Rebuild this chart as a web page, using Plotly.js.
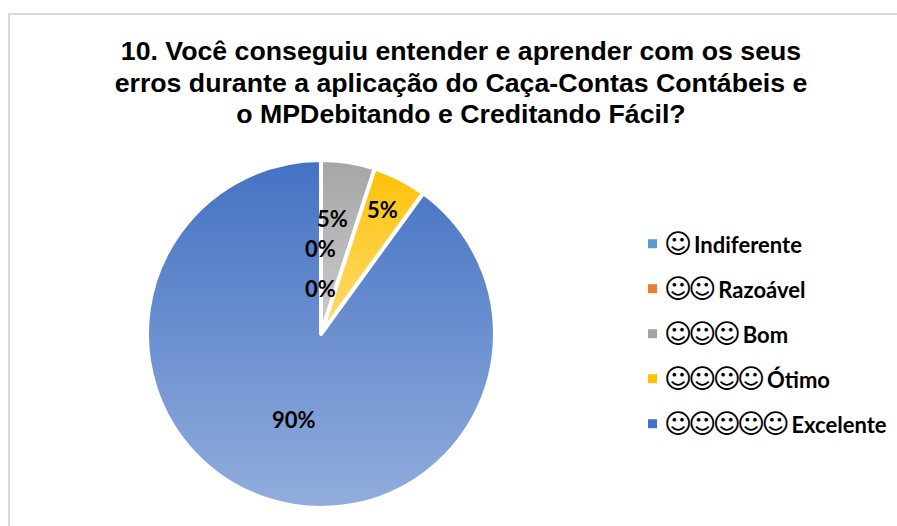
<!DOCTYPE html>
<html><head><meta charset="utf-8">
<script src="https://cdn.plot.ly/plotly-3.0.1.min.js"></script>
<style>html,body{margin:0;padding:0;background:#fff;overflow:hidden}</style>
</head><body><div id="chart" style="width:897px;height:526px"></div>
<script>
const categories = ['Indiferente','Razoável','Bom','Ótimo','Excelente'];
const smileyCounts = [1,2,3,4,5];
const values = [0,0,5,5,90];
const colors = ['#5B9BD5','#ED7D31','#A5A5A5','#FFC000','#4472C4'];
const titleText = '10. Você conseguiu entender e aprender com os seus<br>erros durante a aplicação do Caça-Contas Contábeis e<br>o MPDebitando e Creditando Fácil?';

const W = 897, H = 526;
const fx = x => x / W, fy = y => 1 - y / H;
const labelFont = {family:'Lato, Carlito, sans-serif', size:22, color:'#000'};
const labelAt = [[320,288],[320,248],[332,218],[382,210],[294,419]];
const total = values.reduce((a,b)=>a+b,0);

const grad = a => 'data:image/svg+xml;charset=utf-8,' + encodeURIComponent(
 `<svg xmlns="http://www.w3.org/2000/svg" width="100" height="100"><defs><linearGradient id="g" x1="0" y1="0" x2="0" y2="1"><stop offset="0" stop-color="#fff" stop-opacity="0"/><stop offset="1" stop-color="#fff" stop-opacity="${a}"/></linearGradient></defs><rect width="100" height="100" fill="url(#g)"/></svg>`);

// extra lightening for the two small slices, whose gradient runs over their own height
const cx = 321, cy = 334, R = 174;
const endAngle = (values[0]+values[1]+values[2]+values[3]) / total * 2 * Math.PI;
const wedgeW = R * Math.sin(endAngle), wedgeTipY = R - R * Math.cos(endAngle);
const wedge = 'data:image/svg+xml;charset=utf-8,' + encodeURIComponent(
 `<svg xmlns="http://www.w3.org/2000/svg" width="${wedgeW}" height="${R}"><defs><linearGradient id="g" gradientUnits="userSpaceOnUse" x1="0" y1="0" x2="0" y2="${R}"><stop offset="0" stop-color="#fff" stop-opacity="0"/><stop offset="1" stop-color="#fff" stop-opacity="0.28"/></linearGradient></defs><polygon points="0,${R} 0,0 ${wedgeW},0 ${wedgeW},${wedgeTipY}" fill="url(#g)"/></svg>`);

const shapes = [{type:'path',xref:'paper',yref:'paper',path:`M${fx(9)},0 L${fx(9)},${fy(14)} L1,${fy(14)}`,line:{color:'#D9D9D9',width:2}}];
const images = [
 {source:grad(0.42),xref:'paper',yref:'paper',x:fx(140),y:fy(160),sizex:fx(362),sizey:348/H,sizing:'stretch',xanchor:'left',yanchor:'top',layer:'above'},
 {source:wedge,xref:'paper',yref:'paper',x:fx(cx),y:fy(cy-R),sizex:fx(wedgeW),sizey:R/H,sizing:'stretch',xanchor:'left',yanchor:'top',layer:'above'}
];
const annotations = [];
values.forEach((v,i)=>{
  annotations.push({xref:'paper',yref:'paper',x:fx(labelAt[i][0]),y:fy(labelAt[i][1]),text:'<b>'+Math.round(v/total*100)+'%</b>',showarrow:false,font:labelFont,xanchor:'center',yanchor:'middle'});
});
categories.forEach((c,i)=>{
  const yc = 243.7 + i*45;
  shapes.push({type:'rect',xref:'paper',yref:'paper',x0:fx(648),x1:fx(657),y0:fy(yc-4.5),y1:fy(yc+4.5),line:{width:0},fillcolor:colors[i]});
  images.push({source:grad(0.4),xref:'paper',yref:'paper',x:fx(648),y:fy(yc-4.5),sizex:fx(9),sizey:9/H,sizing:'stretch',xanchor:'left',yanchor:'top',layer:'above'});
  annotations.push({xref:'paper',yref:'paper',x:fx(661.5),y:fy(yc),xanchor:'left',yanchor:'middle',showarrow:false,align:'left',
    text:'<span style="font-family:\'DejaVu Sans\';font-size:27px;letter-spacing:-3.8px">'+'☺'.repeat(smileyCounts[i])+'</span> <b>'+c+'</b>',
    font:{family:'Lato, Carlito, sans-serif',size:22,color:'#000'}});
});

Plotly.newPlot('chart',[{
  type:'pie',labels:categories,values:values,sort:false,direction:'clockwise',rotation:0,
  marker:{colors:colors,line:{color:'#fff',width:4}},
  textinfo:'none',hoverinfo:'label+percent',
  domain:{x:[fx(147),fx(495)],y:[18/H,366/H]}
}],{
  width:W,height:H,margin:{l:0,r:0,t:0,b:0},paper_bgcolor:'#fff',showlegend:false,
  title:{text:'<b>'+titleText+'</b>',font:{family:'Liberation Sans, Arial, sans-serif',size:26.7,color:'#000'},x:fx(461),xanchor:'center',y:fy(60),yanchor:'middle'},
  shapes:shapes,images:images,annotations:annotations
},{staticPlot:true,displayModeBar:false}).then(gd=>{
  // the reference title uses tighter line spacing than Plotly's default
  gd.querySelectorAll('.gtitle tspan.line').forEach((t,i)=>t.setAttribute('dy',(i*1.18)+'em'));
});
</script></body></html>
